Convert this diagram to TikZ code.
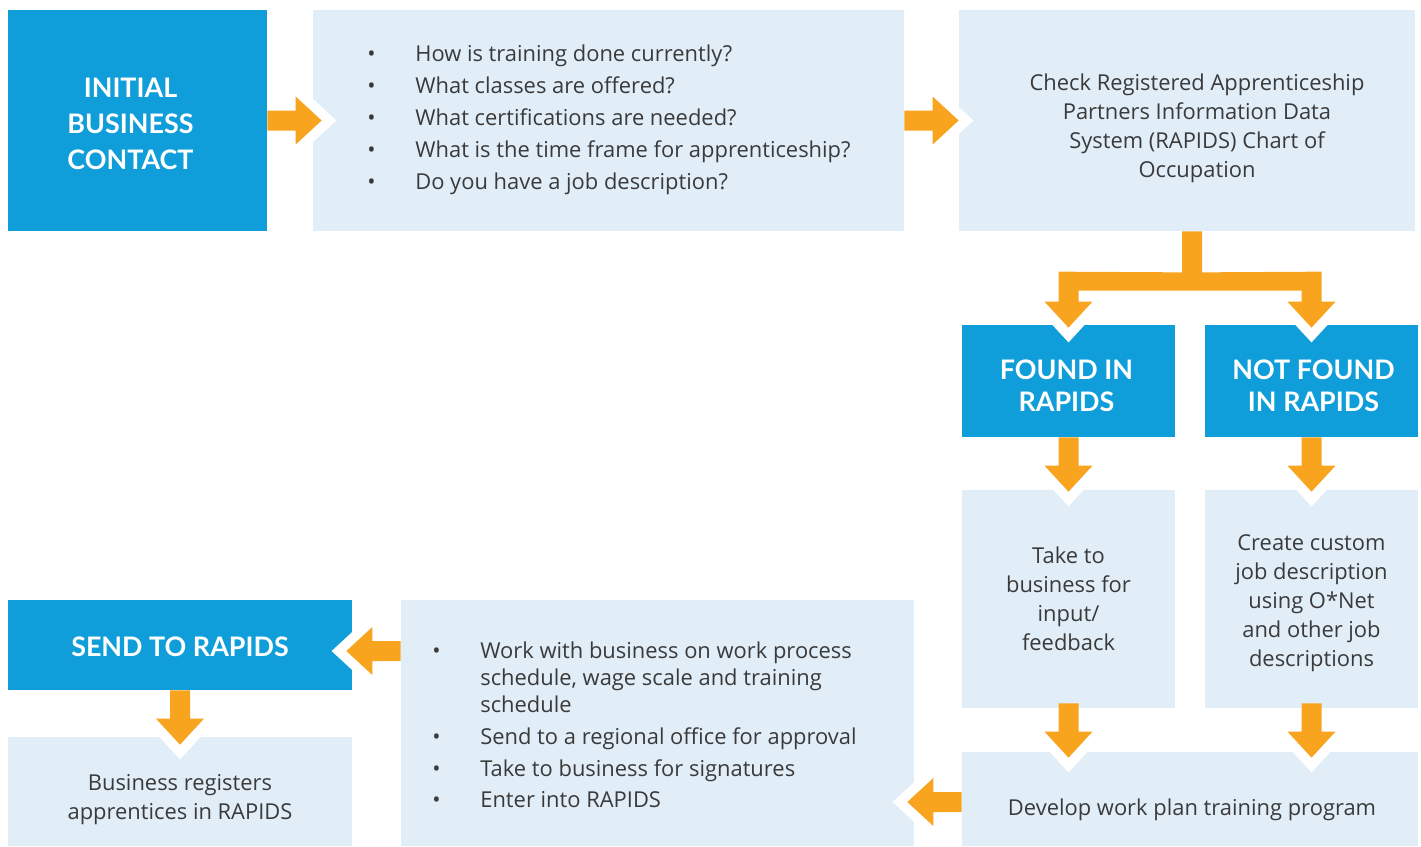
\documentclass[tikz,border=0pt]{standalone}
\usepackage{fontspec}
\setmainfont{Open Sans}
\newfontfamily\titlefam{Lato}
\usetikzlibrary{calc}
\definecolor{cblue}{HTML}{0F9EDA}
\definecolor{clight}{HTML}{E1EEF8}
\definecolor{corange}{HTML}{F8A41F}
\definecolor{ctext}{HTML}{3A3A3A}
\newcommand\pxfont[2]{\fontsize{\fpeval{#1*0.5669}pt}{\fpeval{#2*0.5669}pt}\selectfont}
\newcommand\bul{\makebox[0.96cm][l]{•}}
% block arrows: #1 start (on shaft axis), #2 tip
\newcommand\arrR[2]{%
  \draw[halo] ($(#2)+(-26,-24)$) -- (#2) -- ($(#2)+(-26,24)$);
  \fill[arr] ($(#1)+(0,-10)$) -- ($(#2)+(-26,-10)$) -- ($(#2)+(-26,-24)$) -- (#2)
    -- ($(#2)+(-26,24)$) -- ($(#2)+(-26,10)$) -- ($(#1)+(0,10)$) -- cycle;}
\newcommand\arrL[2]{%
  \draw[halo] ($(#2)+(26,-24)$) -- (#2) -- ($(#2)+(26,24)$);
  \fill[arr] ($(#1)+(0,-10)$) -- ($(#2)+(26,-10)$) -- ($(#2)+(26,-24)$) -- (#2)
    -- ($(#2)+(26,24)$) -- ($(#2)+(26,10)$) -- ($(#1)+(0,10)$) -- cycle;}
\newcommand\arrD[2]{%
  \draw[halo] ($(#2)+(-24,-26)$) -- (#2) -- ($(#2)+(24,-26)$);
  \fill[arr] ($(#1)+(-10,0)$) -- ($(#2)+(-10,-26)$) -- ($(#2)+(-24,-26)$) -- (#2)
    -- ($(#2)+(24,-26)$) -- ($(#2)+(10,-26)$) -- ($(#1)+(10,0)$) -- cycle;}
\begin{document}
\begin{tikzpicture}[x=0.02cm,y=-0.02cm,
  boxbase/.style={inner sep=0pt, draw=none},
  bluebox/.style={boxbase, fill=cblue},
  lightbox/.style={boxbase, fill=clight},
  size/.style 2 args={minimum width=#1*0.02cm, minimum height=#2*0.02cm},
  titletext/.style={inner sep=0pt, text=white, align=center, font=\titlefam\bfseries\pxfont{27}{36.5}},
  bodytext/.style={inner sep=0pt, text=ctext, align=center, font=\pxfont{22}{29}},
  listtext/.style={inner sep=0pt, text=ctext, align=left, anchor=west},
  arr/.style={fill=corange},
  halo/.style={draw=white, line width=0.4cm, line cap=butt, line join=miter}]
\useasboundingbox (0,0) rectangle (1421,846);
% boxes
\node[bluebox, size={259}{221}] (ini) at (137.5,120.5) {};
\node[lightbox, size={591}{221}] (q) at (608.5,120.5) {};
\node[lightbox, size={456}{221}] (chk) at (1187,120.5) {};
\node[bluebox, size={213}{112}] (found) at (1068.5,381) {};
\node[bluebox, size={213}{112}] (nfound) at (1311.5,381) {};
\node[lightbox, size={213}{218}] (take) at (1068.5,599) {};
\node[lightbox, size={213}{218}] (create) at (1311.5,599) {};
\node[lightbox, size={456}{94}] (dev) at (1190,799) {};
\node[lightbox, size={513}{246}] (work) at (657.5,723) {};
\node[bluebox, size={344}{90}] (send) at (180,645) {};
\node[lightbox, size={344}{109}] (reg) at (180,791.5) {};
% texts
\node[titletext] (initext) at ($(ini)+(-7,3.5)$) {INITIAL\\BUSINESS\\CONTACT};
\node[bodytext] (chktext) at ($(chk)+(10,8)$) {Check Registered Apprenticeship\\Partners Information Data\\System (RAPIDS) Chart of\\Occupation};
\node[titletext, font=\titlefam\bfseries\pxfont{27}{32}] (foundtext) at ($(found)+(-2,5)$) {FOUND IN\\RAPIDS};
\node[titletext, font=\titlefam\bfseries\pxfont{27}{32}] (nfoundtext) at ($(nfound)+(2,5)$) {NOT FOUND\\IN RAPIDS};
\node[bodytext] (taketext) at ($(take)+(0,0)$) {Take to\\business for\\input/\\feedback};
\node[bodytext] (createtext) at ($(create)+(0,4)$) {Create custom\\job description\\using O*Net\\and other job\\descriptions};
\node[bodytext] (devtext) at ($(dev)+(2,11)$) {Develop work plan training program};
\node[titletext] (sendtext) at ($(send)+(0,2)$) {SEND TO RAPIDS};
\node[bodytext] (regtext) at ($(reg)+(0,8)$) {Business registers\\apprentices in RAPIDS};
\node[listtext, font=\pxfont{22}{32}] (qlist) at (367,120)
  {\bul How is training done currently?\\
   \bul What classes are offered?\\
   \bul What certifications are needed?\\
   \bul What is the time frame for apprenticeship?\\
   \bul Do you have a job description?};
\node[listtext, font=\pxfont{22}{27}] (wlist) at (432,725)
  {\bul Work with business on work process\\
   \hphantom{\bul}schedule, wage scale and training\\
   \hphantom{\bul}schedule\\[0.1cm]
   \bul Send to a regional office for approval\\[0.1cm]
   \bul Take to business for signatures\\[0.1cm]
   \bul Enter into RAPIDS};
% arrow end points
\coordinate (a1s) at (ini.east);
\coordinate (a1t) at ($(ini.east -| q.west)+(9,0)$);
\coordinate (a2s) at (q.east);
\coordinate (a2t) at (ini.east -| chk.west);
\coordinate (a4s) at (found.south);
\coordinate (a4t) at ($(take.north)+(0,2)$);
\coordinate (a5s) at (nfound.south);
\coordinate (a5t) at ($(create.north)+(0,2)$);
\coordinate (a6s) at ($(take.south)+(0,-5)$);
\coordinate (a6t) at ($(dev.north -| take.south)+(0,6)$);
\coordinate (a7s) at ($(create.south)+(0,-5)$);
\coordinate (a7t) at ($(dev.north -| create.south)+(0,6)$);
\coordinate (a8s) at ($(dev.west)+(0,3)$);
\coordinate (a8t) at ($(a8s -| work.east)+(-7,0)$);
\coordinate (a9s) at ($(work.west |- send.east)+(0,6)$);
\coordinate (a9t) at ($(send.east)+(-6,6)$);
\coordinate (a10s) at (send.south);
\coordinate (a10t) at ($(reg.north)+(0,8)$);
% branch from chk to found / not found
\coordinate (bs) at ($(chk.south)+(5,0)$);
\coordinate (tl) at ($(found.north)+(0,3)$);
\coordinate (tr) at ($(nfound.north)+(0,3)$);
\draw[halo] ($(tl)+(-24,-26)$) -- (tl) -- ($(tl)+(24,-26)$);
\draw[halo] ($(tr)+(-24,-26)$) -- (tr) -- ($(tr)+(24,-26)$);
\fill[arr] ($(bs)+(-10,0)$) -- ($(bs)+(-10,41)$) -- ($(tl)+(-10,-56)$) -- ($(tl)+(-10,-26)$)
  -- ($(tl)+(-24,-26)$) -- (tl) -- ($(tl)+(24,-26)$) -- ($(tl)+(10,-26)$) -- ($(tl)+(10,-37)$)
  -- ($(tr)+(-10,-37)$) -- ($(tr)+(-10,-26)$) -- ($(tr)+(-24,-26)$) -- (tr)
  -- ($(tr)+(24,-26)$) -- ($(tr)+(10,-26)$) -- ($(tr)+(10,-56)$) -- ($(bs)+(10,41)$)
  -- ($(bs)+(10,0)$) -- cycle;
% straight arrows
\arrR{a1s}{a1t}
\arrR{a2s}{a2t}
\arrD{a4s}{a4t}
\arrD{a5s}{a5t}
\arrD{a6s}{a6t}
\arrD{a7s}{a7t}
\arrL{a8s}{a8t}
\arrL{a9s}{a9t}
\arrD{a10s}{a10t}
\end{tikzpicture}
\end{document}
